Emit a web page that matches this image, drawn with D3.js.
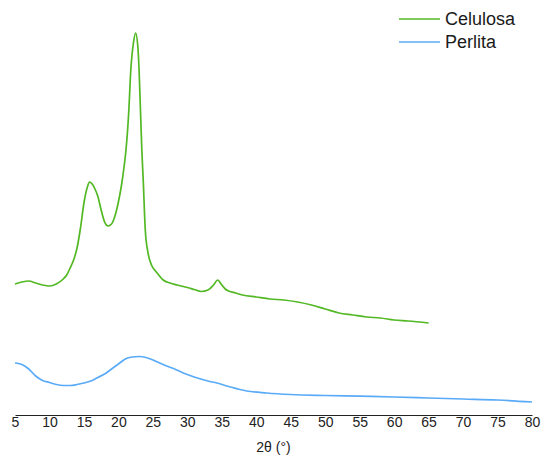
<!DOCTYPE html>
<html>
<head>
<meta charset="utf-8">
<script src="https://cdn.jsdelivr.net/npm/d3@7"></script>
<style>
  body { margin: 0; background: #fff; }
  svg { display: block; font-family: "Liberation Sans", Arial, sans-serif; }
</style>
</head>
<body>
<svg id="chart" width="541" height="456"></svg>
<script>
// 2-theta positions and intensities (arbitrary units)
const celulosaX = [5, 6, 7, 8, 9, 10, 11, 12, 12.5, 13, 13.5, 14, 14.5, 15, 15.5, 15.8, 16.2, 16.6, 17, 17.5,
  18, 18.5, 19, 19.5, 20, 20.5, 20.8, 21.1, 21.5, 21.8, 22.2, 22.5, 22.8, 23, 23.2, 23.4, 23.6, 23.9, 24.3, 24.8,
  25.5, 26.5, 27.5, 28.5, 30, 31, 32, 33, 33.8, 34.4, 35, 35.5, 36, 37, 38, 40, 42, 44, 46,
  48, 50, 52, 54, 56, 58, 60, 62, 65];
const celulosaY = [1310, 1330, 1340, 1320, 1300, 1290, 1310, 1360, 1400, 1470, 1550, 1670, 1870, 2120, 2280, 2330, 2310, 2260, 2190, 2050,
  1930, 1890, 1910, 1990, 2130, 2320, 2470, 2650, 3030, 3450, 3730, 3820, 3700, 3450, 3050, 2650, 2350, 1850, 1620, 1500,
  1430, 1350, 1320, 1300, 1275, 1255, 1235, 1250, 1300, 1350, 1300, 1260, 1240, 1220, 1200, 1180, 1160, 1150, 1130,
  1100, 1060, 1020, 1000, 980, 970, 950, 940, 920];

const perlitaX = [5, 5.5, 6, 7, 8, 9, 10, 11, 12, 13, 14, 15, 16, 17, 18, 19, 20, 21, 22, 23,
  24, 25, 26, 27, 28, 29.4, 31, 33, 34.3, 36, 38.6, 41.5, 45, 50, 55, 60, 65, 70, 75, 80];
const perlitaY = [520, 515, 505, 460, 390, 345, 325, 305, 295, 295, 305, 320, 340, 375, 410, 460, 510, 560, 580, 585,
  575, 550, 520, 490, 465, 420, 380, 340, 320, 285, 240, 220, 205, 195, 188, 180, 170, 160, 150, 130];

const xTicks = [5, 10, 15, 20, 25, 30, 35, 40, 45, 50, 55, 60, 65, 70, 75, 80];
const seriesNames = ['Celulosa', 'Perlita'];
const seriesColors = ['#52b824', '#5aabf7'];

const svg = d3.select('#chart');
const left = 15, right = 532, axisY = 415;

const x = d3.scaleLinear().domain([5, 80]).range([left, right]);
const y = d3.scaleLinear().domain([0, 4000]).range([axisY, 15]);

const series = [
  celulosaX.map((d, i) => [d, celulosaY[i]]),
  perlitaX.map((d, i) => [d, perlitaY[i]])
];

const line = d3.line()
  .x(d => x(d[0]))
  .y(d => y(d[1]))
  .curve(d3.curveMonotoneX);

// lines
svg.selectAll('path.series')
  .data(series)
  .enter()
  .append('path')
  .attr('class', 'series')
  .attr('d', line)
  .attr('fill', 'none')
  .attr('stroke', (d, i) => seriesColors[i])
  .attr('stroke-width', 1.7)
  .attr('stroke-linejoin', 'round');

// x axis
const axis = svg.append('g')
  .attr('transform', `translate(0,${axisY})`)
  .call(d3.axisBottom(x).tickValues(xTicks).tickSize(0).tickSizeOuter(0).tickPadding(2));
axis.select('.domain').attr('stroke', '#222').attr('stroke-width', 1);
axis.selectAll('text')
  .attr('font-size', 14)
  .attr('fill', '#222')
  .attr('font-family', '"Liberation Sans", Arial, sans-serif');

svg.append('text')
  .attr('x', (left + right) / 2)
  .attr('y', 452)
  .attr('text-anchor', 'middle')
  .attr('font-size', 14)
  .attr('fill', '#222')
  .text('2θ (°)');

// legend
const legend = svg.append('g');
seriesNames.forEach((name, i) => {
  const ly = 19 + i * 23;
  legend.append('line')
    .attr('x1', 399).attr('x2', 440)
    .attr('y1', ly).attr('y2', ly)
    .attr('stroke', seriesColors[i])
    .attr('stroke-width', 1.6);
  legend.append('text')
    .attr('x', 445)
    .attr('y', ly + 6)
    .attr('font-size', 18)
    .attr('fill', '#1a1a1a')
    .text(name);
});
</script>
</body>
</html>
